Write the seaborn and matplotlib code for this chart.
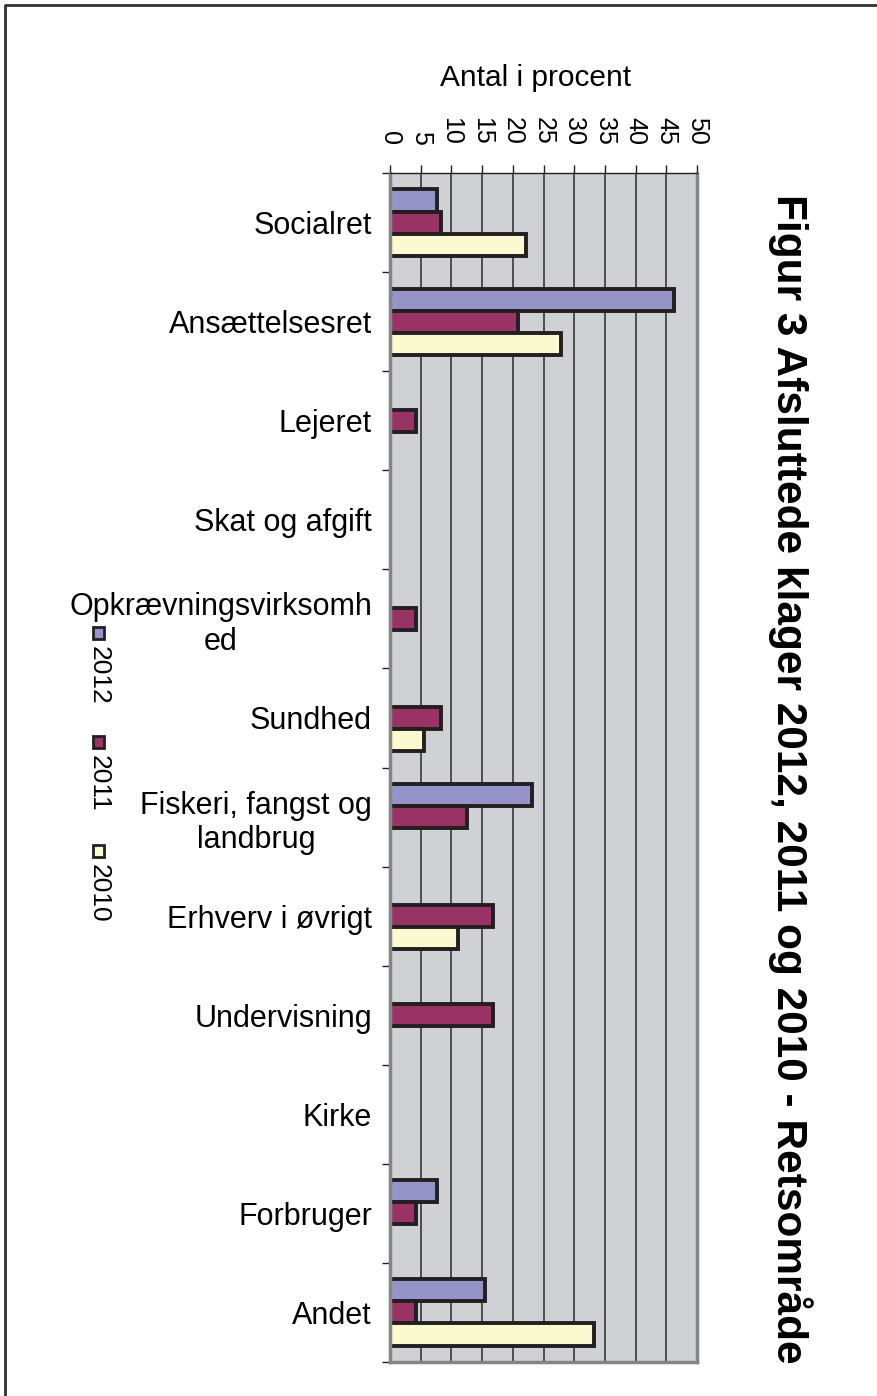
import numpy as np
import pandas as pd
import seaborn as sns
import matplotlib.pyplot as plt
from matplotlib.patches import Rectangle

plt.rcParams['font.family'] = ['Liberation Sans', 'DejaVu Sans']

categories = ["Socialret", "Ansættelsesret", "Lejeret", "Skat og afgift",
              "Opkrævningsvirksomh\ned", "Sundhed", "Fiskeri, fangst og\nlandbrug",
              "Erhverv i øvrigt", "Undervisning", "Kirke", "Forbruger", "Andet"]
years = ["2012", "2011", "2010"]
v2012 = [7.7, 46.2, np.nan, np.nan, np.nan, np.nan, 23.1, np.nan, np.nan, np.nan, 7.7, 15.4]
v2011 = [8.3, 20.8, 4.2, np.nan, 4.2, 8.3, 12.5, 16.7, 16.7, np.nan, 4.2, 4.2]
v2010 = [22.2, 27.8, np.nan, np.nan, np.nan, 5.6, np.nan, 11.1, np.nan, np.nan, np.nan, 33.3]
colors = ["#9494C8", "#993366", "#FBF9D0"]
xticks = list(range(0, 55, 5))

df = pd.DataFrame({"kategori": categories * 3,
                   "aar": np.repeat(years, len(categories)),
                   "pct": v2012 + v2011 + v2010}).dropna()

fig = plt.figure(figsize=(8.77, 13.96), dpi=100)
ax = fig.add_axes([390 / 877, 1 - 1362 / 1396, 307 / 877, 1189 / 1396])
ax.set_facecolor("#D0D1D4")

sns.barplot(data=df, x="pct", y="kategori", hue="aar", order=categories,
            hue_order=years, palette=colors, orient="h", width=0.667,
            edgecolor="#231F20", linewidth=2.8, saturation=1, legend=False, ax=ax)

ax.set_xlim(0, 50)
ax.set_ylim(len(categories) - 0.5, -0.5)
ax.set_xticks(xticks)
ax.set_xticklabels([str(t) for t in xticks])
ax.xaxis.tick_top()
ax.xaxis.set_label_position("top")
ax.tick_params(axis="x", direction="out", length=6, width=1, color="#231F20",
               labelrotation=-90, labelsize=18, pad=14)
ax.set_xlabel("Antal i procent", fontsize=21.5, va="center")
ax.xaxis.set_label_coords(0.475, 1 + 95 / 1189)
ax.set_ylabel("")
ax.grid(axis="x", color="#2A2A2A", linewidth=1.1)
ax.set_axisbelow(True)

ax.set_yticks(range(len(categories)))
ax.set_yticklabels(categories, multialignment="center")
ax.set_yticks(np.arange(-0.5, len(categories)), minor=True)
ax.tick_params(axis="y", which="major", length=0, labelsize=22, pad=13)
ax.tick_params(axis="y", which="minor", length=6, width=1, color="#231F20")

for side in ["left", "right", "bottom"]:
    ax.spines[side].set_color("#858585")
    ax.spines[side].set_linewidth(2.5)
ax.spines["top"].set_color("#231F20")
ax.spines["top"].set_linewidth(1)

# legend, rotated like the rest of the chart
for i, (yr, c) in enumerate(zip(years, colors)):
    yc = 633 + i * 109
    fig.patches.append(Rectangle((93 / 877, 1 - (yc + 6) / 1396), 11 / 877, 12 / 1396,
                                 transform=fig.transFigure, facecolor=c,
                                 edgecolor="#231F20", linewidth=2))
    fig.text(98.5 / 877, 1 - (yc + 13) / 1396, yr, rotation=-90, ha="center", va="top",
             fontsize=19)

fig.text(790 / 877, 1 - 194 / 1396, "Figur 3 Afsluttede klager 2012, 2011 og 2010 - Retsområde",
         rotation=-90, ha="center", va="top", fontsize=30.5, fontweight="bold")

# outer frame (left and top edges)
fig.lines.append(plt.Line2D([5 / 877, 5 / 877, 1], [0, 1 - 5 / 1396, 1 - 5 / 1396],
                            transform=fig.transFigure, color="#333333", linewidth=2))

fig.savefig("out.png", dpi=100)
